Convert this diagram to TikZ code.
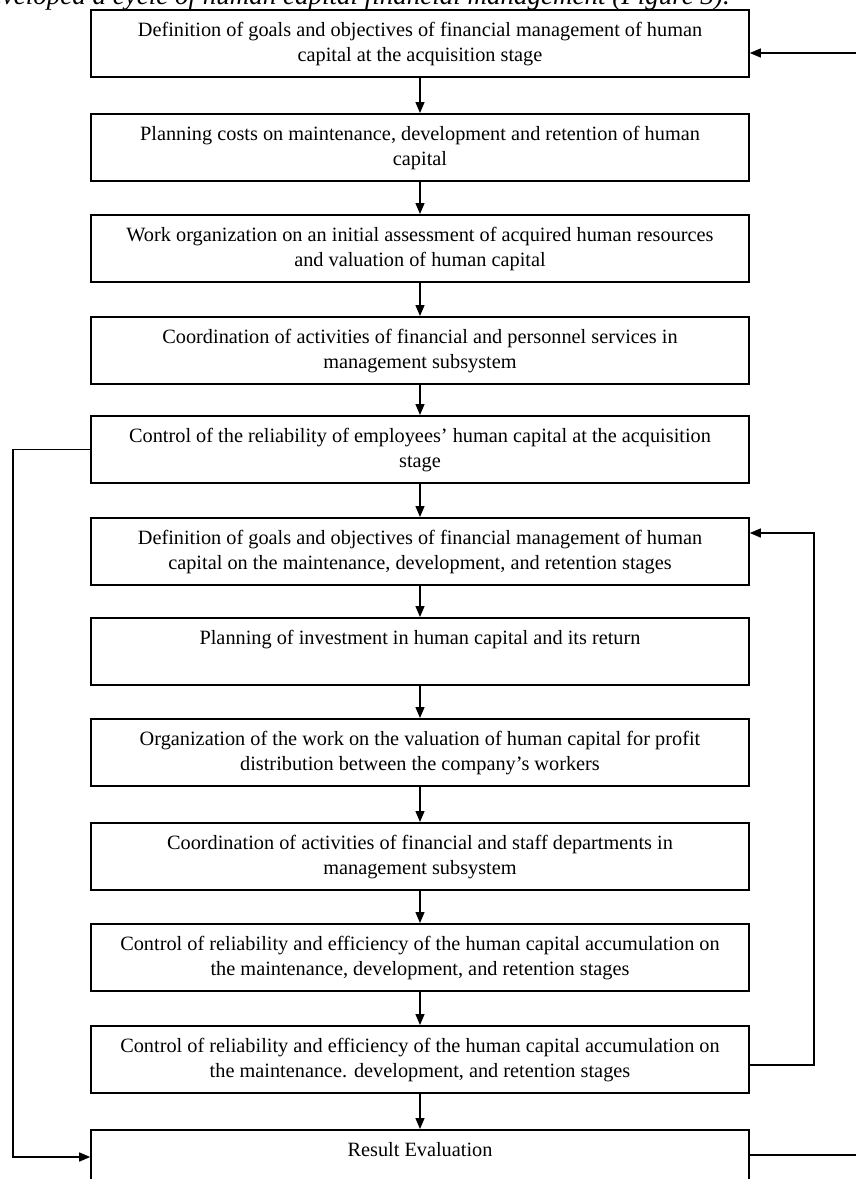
\documentclass[tikz,border=0pt]{standalone}
\usepackage{fontspec}
\setmainfont{Liberation Serif}
\usetikzlibrary{arrows.meta,calc}
\newcommand\stg[1]{\parbox[c][67pt][t]{654pt}{\centering\fontsize{20.3}{25}\selectfont\rule{0pt}{27pt}#1}}
\begin{document}
\begin{tikzpicture}[x=1pt,y=-1pt,
  stage/.style={draw, line width=1.6pt, inner sep=0pt, minimum width=658pt, minimum height=67pt, anchor=north},
  conn/.style={line width=1.4pt, -{Triangle[length=11pt,width=9pt]}}]
\useasboundingbox (0,0) rectangle (856,1179);
\node[anchor=base east, inner sep=0pt, font=\fontsize{27}{30}\selectfont\itshape] (cap) at (730,4) {developed a cycle of human capital financial management (Figure 3).};
\node[stage] (b1) at (420,9) {\stg{Definition of goals and objectives of financial management of human\\capital at the acquisition stage}};
\node[stage] (b2) at (420,113) {\stg{Planning costs on maintenance, development and retention of human\\capital}};
\node[stage] (b3) at (420,214) {\stg{Work organization on an initial assessment of acquired human resources\\and valuation of human capital}};
\node[stage] (b4) at (420,316) {\stg{Coordination of activities of financial and personnel services in\\management subsystem}};
\node[stage] (b5) at (420,415) {\stg{Control of the reliability of employees' human capital at the acquisition\\stage}};
\node[stage] (b6) at (420,517) {\stg{Definition of goals and objectives of financial management of human\\capital on the maintenance, development, and retention stages}};
\node[stage] (b7) at (420,617) {\stg{Planning of investment in human capital and its return}};
\node[stage] (b8) at (420,718) {\stg{Organization of the work on the valuation of human capital for profit\\distribution between the company's workers}};
\node[stage] (b9) at (420,822) {\stg{Coordination of activities of financial and staff departments in\\management subsystem}};
\node[stage] (b10) at (420,923) {\stg{Control of reliability and efficiency of the human capital accumulation on\\the maintenance, development, and retention stages}};
\node[stage] (b11) at (420,1025) {\stg{Control of reliability and efficiency of the human capital accumulation on\\the maintenance. development, and retention stages}};
\node[stage] (b12) at (420,1129) {\stg{Result Evaluation}};
\foreach \a/\b in {b1/b2,b2/b3,b3/b4,b4/b5,b5/b6,b6/b7,b7/b8,b8/b9,b9/b10,b10/b11,b11/b12}
  \draw[conn] (\a.south) -- (\b.north);
% left loop
\coordinate (lx) at (13,0);
\coordinate (in12) at ($(b12.north west)+(0,28)$);
\draw[conn] (b5.west) -| (lx |- in12) -- (in12);
% right loop
\coordinate (rx) at (814,0);
\coordinate (out11) at ($(b11.north east)+(0,40)$);
\coordinate (in6) at ($(b6.north east)+(0,16)$);
\draw[conn] (out11) -| (rx |- in6) -- (in6);
% outer loop (passes beyond the right edge)
\coordinate (ox) at (880,0);
\coordinate (out12) at ($(b12.north east)+(0,26)$);
\coordinate (in1) at ($(b1.north east)+(0,44)$);
\draw[conn] (out12) -| (ox |- in1) -- (in1);
\end{tikzpicture}
\end{document}
